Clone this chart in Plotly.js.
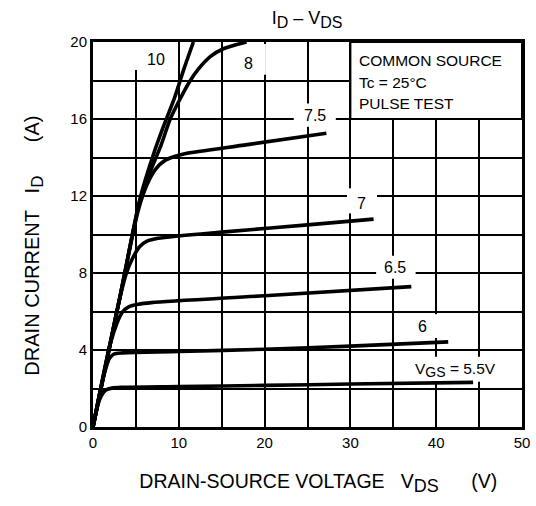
<!DOCTYPE html>
<html>
<head>
<meta charset="utf-8">
<script src="https://cdn.plot.ly/plotly-3.0.1.min.js"></script>
<style>
html,body{margin:0;padding:0;background:#fff;}
#chart{width:536px;height:506px;}
</style>
</head>
<body>
<div id="chart"></div>
<script>
// V_GS curve labels
const vgsLabels = ["5.5", "6", "6.5", "7", "7.5", "8", "10"];

// V_DS (V) / I_D (A) points
const vds_55 = [0, 0.6, 1.0, 1.5, 2.2, 3.5, 10, 20, 30, 44.3];
const id_55  = [0, 1.2, 1.65, 1.92, 2.02, 2.06, 2.1, 2.16, 2.23, 2.32];

const vds_6 = [0, 1.0, 1.5, 1.9, 2.4, 3.5, 10, 20, 30, 41.4];
const id_6  = [0, 2.2, 3.05, 3.55, 3.78, 3.85, 3.92, 4.04, 4.2, 4.42];

const vds_65 = [0, 2.0, 2.8, 3.4, 4.2, 5.3, 6.8, 20, 37.1];
const id_65  = [0, 4.3, 5.4, 5.95, 6.25, 6.38, 6.46, 6.82, 7.29];

const vds_7 = [0, 3.0, 3.9, 4.6, 5.4, 6.3, 7.6, 15.7, 25, 32.7];
const id_7  = [0, 6.45, 8.0, 8.75, 9.35, 9.65, 9.8, 10.15, 10.5, 10.8];

const vds_75 = [0, 3.3, 5.3, 6.3, 7.3, 8.4, 9.5, 10.7, 18, 27.2];
const id_75  = [0, 7.1, 11.3, 12.6, 13.4, 13.85, 14.05, 14.2, 14.67, 15.26];

const vds_8 = [0, 3.3, 5.5, 6.7, 7.9, 9.0, 10.1, 11.2, 12.3, 13.7, 15.2, 17.9];
const id_8  = [0, 7.1, 11.8, 13.3, 14.6, 16.0, 17.0, 17.9, 18.6, 19.25, 19.65, 20];

const vds_10 = [0, 3.3, 5.5, 7.0, 8.2, 9.5, 10.6, 11.7];
const id_10  = [0, 7.1, 11.9, 14.1, 15.6, 17.1, 18.6, 20];

const xTickVals = [0, 10, 20, 30, 40, 50];
const yTickVals = [0, 4, 8, 12, 16, 20];

const seriesX = [vds_55, vds_6, vds_65, vds_7, vds_75, vds_8, vds_10];
const seriesY = [id_55, id_6, id_65, id_7, id_75, id_8, id_10];

const FONT = "Arial, 'Liberation Sans', Helvetica, sans-serif";

const traces = seriesX.map((xs, i) => ({
  type: "scatter",
  mode: "lines",
  x: xs,
  y: seriesY[i],
  name: "V_GS = " + vgsLabels[i] + " V",
  line: {color: "#000", width: 3.6, shape: "spline", smoothing: 0.8},
  hoverinfo: "skip",
  cliponaxis: true
}));

// white patches behind curve labels / condition box (between grid and traces)
function patch(x0, x1, y0, y1, border) {
  return {type: "rect", xref: "x", yref: "y", x0, x1, y0, y1,
          fillcolor: "#fff", line: {color: "#000", width: border ? 2 : 0},
          layer: "between"};
}
const shapes = [
  patch(30, 50, 16, 20, true),
  patch(4.85, 9.85, 18.55, 20),
  patch(16.0, 20.15, 18.3, 19.9),
  patch(23.4, 28.3, 15.6, 16.8),
  patch(29.6, 33.1, 11.1, 12.4),
  patch(33.0, 37.6, 7.7, 8.9),
  patch(37.2, 41.0, 4.62, 5.86),
  patch(37.2, 47.6, 2.35, 3.65)
];

const sub = (s, px) => "<sub><span style='font-size:" + px + "px'>" + s + "</span></sub>";

function lab(text, x, y, size, anchor) {
  return {text, x, y, xref: "x", yref: "y", showarrow: false,
          xanchor: anchor || "center", yanchor: "middle",
          font: {family: FONT, size: size || 16, color: "#000"}};
}
const annotations = [
  lab("10", 7.3, 19.1),
  lab("8", 18.1, 18.9),
  lab("7.5", 25.9, 16.2),
  lab("7", 31.3, 11.6),
  lab("6.5", 35.2, 8.3),
  lab("6", 38.4, 5.2),
  lab("V" + sub("GS", 14) + " = 5.5V", 42.3, 2.96, 15.5),
  lab("COMMON SOURCE", 30.8, 19.06, 15.5, "left"),
  lab("Tc = 25°C", 30.8, 17.92, 15.5, "left"),
  lab("PULSE TEST", 30.8, 16.83, 15.5, "left")
];

const NB = "\u00A0";
const ZW = "\u200B";
const layout = {
  width: 536, height: 506,
  margin: {l: 93, r: 14, t: 42, b: 79, pad: 0},
  paper_bgcolor: "#fff", plot_bgcolor: "#fff",
  showlegend: false,
  font: {family: FONT, color: "#000", size: 15},
  title: {text: "I" + sub("D", 16) + " – V" + sub("DS", 16), x: 0.573, xanchor: "center",
          y: 0.965, yanchor: "middle", yref: "container",
          font: {family: FONT, size: 18, color: "#000"}},
  xaxis: {
    range: [0, 50], tickmode: "array", tickvals: xTickVals,
    showgrid: true, gridcolor: "#000", gridwidth: 2,
    minor: {dtick: 5, showgrid: true, gridcolor: "#000", gridwidth: 2, ticks: ""},
    showline: true, mirror: true, linecolor: "#000", linewidth: 3,
    ticks: "", zeroline: false, fixedrange: true,
    tickfont: {family: FONT, size: 15, color: "#000"},
    title: {text: ZW + NB.repeat(4) + "DRAIN-SOURCE VOLTAGE" + NB.repeat(3) + "V" + sub("DS", 18) + NB.repeat(6) + "(V)",
            font: {family: FONT, size: 19.5, color: "#000"}, standoff: 25}
  },
  yaxis: {
    range: [0, 20], tickmode: "array", tickvals: yTickVals,
    showgrid: true, gridcolor: "#000", gridwidth: 2,
    minor: {dtick: 2, showgrid: true, gridcolor: "#000", gridwidth: 2, ticks: ""},
    showline: true, mirror: true, linecolor: "#000", linewidth: 3,
    ticks: "", zeroline: false, fixedrange: true,
    tickfont: {family: FONT, size: 15, color: "#000"},
    title: {text: "DRAIN CURRENT" + NB.repeat(3) + "I" + sub("D", 17) + NB.repeat(6) + "(A)" + NB.repeat(4) + ZW,
            font: {family: FONT, size: 20, color: "#000"}, standoff: 26}
  },
  shapes, annotations
};

Plotly.newPlot("chart", traces, layout, {staticPlot: true, displayModeBar: false});
</script>
</body>
</html>
